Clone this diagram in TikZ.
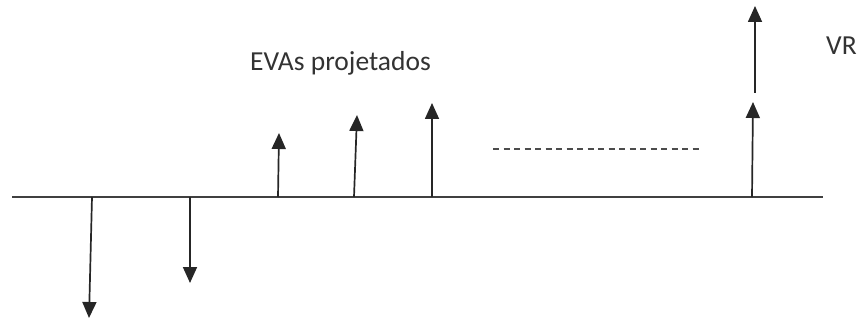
\documentclass[tikz,border=0pt]{standalone}
\usepackage{fontspec}
\setmainfont{Carlito}
\usetikzlibrary{arrows.meta, positioning}

\begin{document}
\begin{tikzpicture}[x=1pt, y=-1pt, flow/.style={-{Triangle[width=14pt, length=16pt]}, line width=1.7pt, draw=black!85}, axisline/.style={line width=1.8pt, draw=black!75}, label/.style={font=\fontsize{27.5}{30}\selectfont, text=black!80, inner sep=0pt}]

            \useasboundingbox (0,0) rectangle (858,320);

            % time axis
            \coordinate (A0) at (12,197);
            \coordinate (A1) at (823,197);
            \draw[axisline] (A0) -- (A1);

            % outflows
            \coordinate (d1) at (92,197);
            \coordinate (d1e) at (89,318);
            \coordinate (d2) at (190,197);
            \coordinate (d2e) at (190,283);
            \draw[flow] (d1) -- (d1e);
            \draw[flow] (d2) -- (d2e);

            % projected EVAs
            \coordinate (u1) at (278,197);
            \coordinate (u1e) at (279,133);
            \coordinate (u2) at (354,197);
            \coordinate (u2e) at (357,115);
            \coordinate (u3) at (432,197);
            \coordinate (u3e) at (432,103);
            \draw[flow] (u1) -- (u1e);
            \draw[flow] (u2) -- (u2e);
            \draw[flow] (u3) -- (u3e);

            \coordinate (g0) at (493,149);
            \coordinate (g1) at (703,149);
            \draw[line width=1.2pt, draw=black!70, dash pattern=on 6pt off 4.5pt] (g0) -- (g1);

            % last period and residual value
            \coordinate (u4) at (752,197);
            \coordinate (u4e) at (753,102);
            \coordinate (v0) at (755,93);
            \coordinate (v1) at (755,6);
            \draw[flow] (u4) -- (u4e);
            \draw[flow] (v0) -- (v1);

            \node[label, anchor=west] (evas) at (250,63) {EVAs projetados};
            \node[label, anchor=west] (vr) at (826,46) {VR};

        \end{tikzpicture}
\end{document}
